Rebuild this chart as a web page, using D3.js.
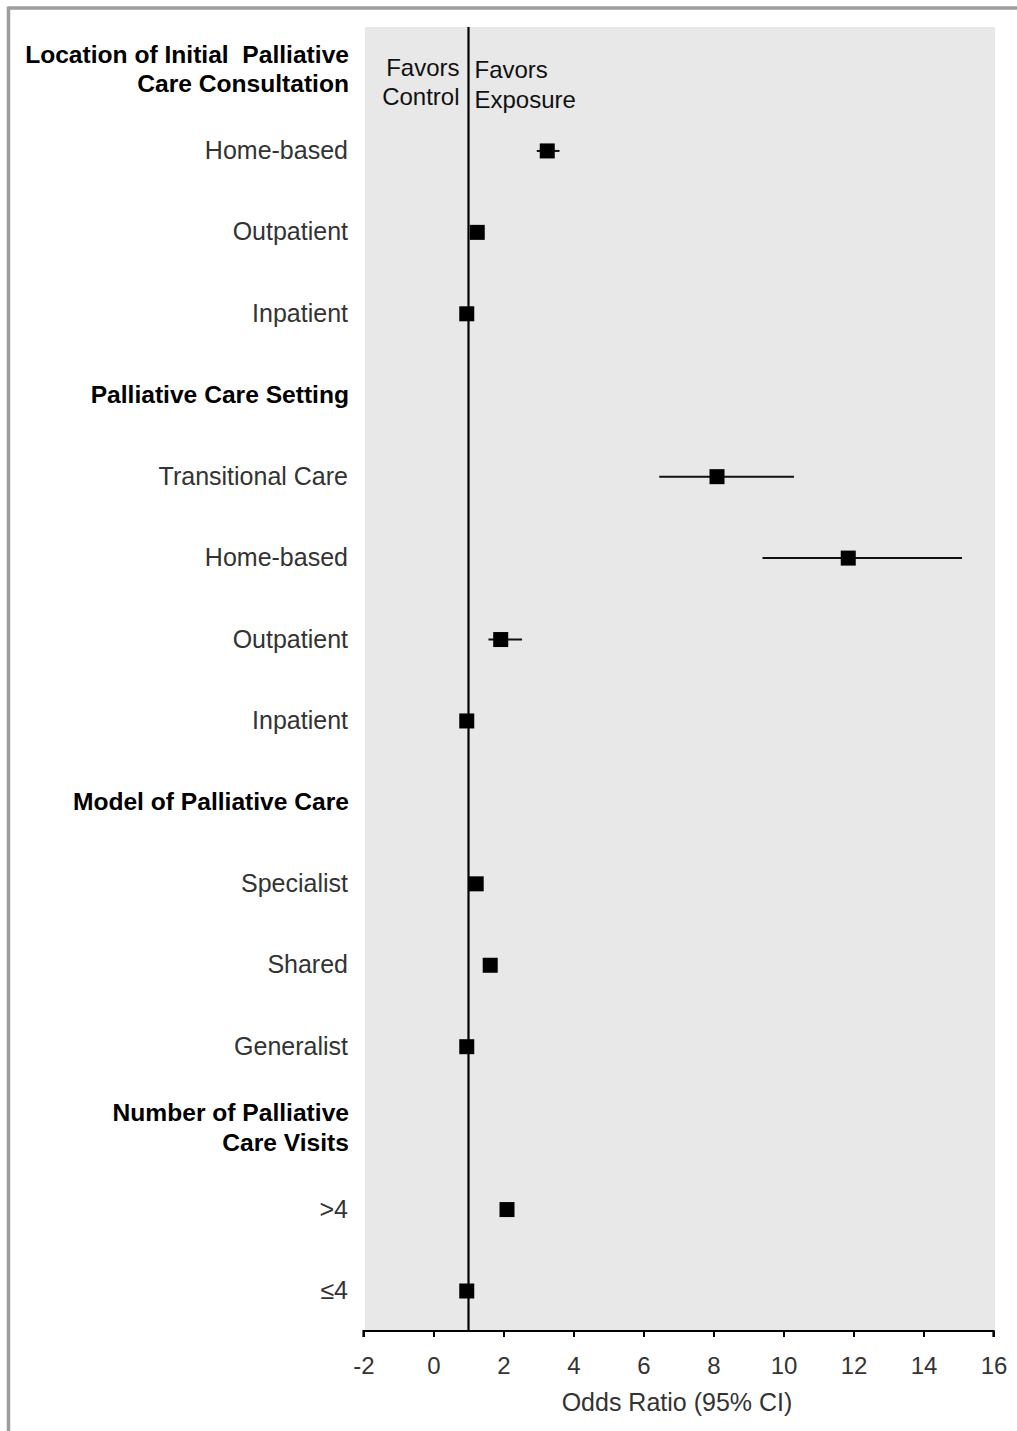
<!DOCTYPE html>
<html>
<head>
<meta charset="utf-8">
<script src="https://cdn.jsdelivr.net/npm/d3@7"></script>
<style>
  html, body { margin: 0; padding: 0; background: #fff; }
  svg { display: block; font-family: "Liberation Sans", Arial, Helvetica, sans-serif; }
</style>
</head>
<body>
<svg id="chart" width="1017" height="1431"></svg>
<script>
// Row labels, top to bottom (section headers carry a line break)
const rowLabels = [
  "Location of Initial  Palliative\nCare Consultation",
  "Home-based", "Outpatient", "Inpatient",
  "Palliative Care Setting",
  "Transitional Care", "Home-based", "Outpatient", "Inpatient",
  "Model of Palliative Care",
  "Specialist", "Shared", "Generalist",
  "Number of Palliative\nCare Visits",
  ">4", "≤4"
];
const isHeader = [true, false, false, false, true, false, false, false, false,
                  true, false, false, false, true, false, false];

// Odds ratios with 95% confidence limits (null = header row / no interval)
const oddsRatio = [null, 3.25, 1.25, 0.95, null, 8.1, 11.85, 1.92, 0.95, null, 1.22, 1.62, 0.95, null, 2.1, 0.95];
const ciLower   = [null, 2.95, 1.2, null, null, 6.45, 9.4, 1.57, null, null, 1.18, 1.58, null, null, 2.05, null];
const ciUpper   = [null, 3.6, 1.32, null, null, 10.3, 15.1, 2.53, null, null, 1.27, 1.68, null, null, 2.15, null];

const xTicks = [-2, 0, 2, 4, 6, 8, 10, 12, 14, 16];
const nullValue = 1;

const svg = d3.select("#chart");

// Outer frame (top and left rules)
svg.append("line").attr("x1", 8.5).attr("x2", 1017).attr("y1", 8).attr("y2", 8)
  .attr("stroke", "#9e9e9e").attr("stroke-width", 3.5);
svg.append("line").attr("x1", 8.5).attr("x2", 8.5).attr("y1", 6.5).attr("y2", 1431)
  .attr("stroke", "#9e9e9e").attr("stroke-width", 3.5);

const x = d3.scaleLinear().domain([-2, 16]).range([363.5, 993.5]);
const y = d3.scaleLinear().domain([0, rowLabels.length - 1]).range([69.5, 1291]);

const panelTop = 27, panelBottom = 1331;

// Plot panel
svg.append("rect")
  .attr("x", 365).attr("y", panelTop)
  .attr("width", 995 - 365).attr("height", panelBottom - panelTop)
  .attr("fill", "#e8e8e8");

// No-effect reference line
svg.append("line")
  .attr("x1", x(nullValue)).attr("x2", x(nullValue))
  .attr("y1", panelTop).attr("y2", panelBottom)
  .attr("stroke", "#000").attr("stroke-width", 2.2);

// Direction captions
const capL = svg.append("text").attr("text-anchor", "end").attr("font-size", 24).attr("fill", "#111");
capL.append("tspan").attr("x", x(nullValue) - 9).attr("y", 76).text("Favors");
capL.append("tspan").attr("x", x(nullValue) - 9).attr("y", 105).text("Control");
const capR = svg.append("text").attr("text-anchor", "start").attr("font-size", 24).attr("fill", "#111");
capR.append("tspan").attr("x", x(nullValue) + 6).attr("y", 78).text("Favors");
capR.append("tspan").attr("x", x(nullValue) + 6).attr("y", 108).text("Exposure");

// X axis
const axis = svg.append("g")
  .attr("transform", `translate(0,${panelBottom})`)
  .call(d3.axisBottom(x).tickValues(xTicks).tickSize(6).tickPadding(20).tickFormat(d => String(d)));
axis.select(".domain").attr("stroke", "#000").attr("stroke-width", 2.2)
  .attr("d", `M${x(-2)},6V0H${x(16)}V6`);
axis.selectAll(".tick line").attr("stroke", "#000").attr("stroke-width", 2);
axis.selectAll(".tick text")
  .attr("font-size", 24).attr("fill", "#333")
  .attr("font-family", "'Liberation Sans', Arial, sans-serif");

svg.append("text")
  .attr("x", 677).attr("y", 1411)
  .attr("text-anchor", "middle").attr("font-size", 25).attr("fill", "#333")
  .text("Odds Ratio (95% CI)");

// Row labels
rowLabels.forEach((lab, i) => {
  const lines = lab.split("\n");
  const t = svg.append("text")
    .attr("text-anchor", "end")
    .attr("font-size", isHeader[i] ? 24.6 : 25)
    .attr("font-weight", isHeader[i] ? "bold" : "normal")
    .attr("fill", isHeader[i] ? "#000" : "#333")
    .style("white-space", "pre");
  const lh = 29.5;
  lines.forEach((ln, k) => {
    t.append("tspan")
      .attr("x", isHeader[i] ? 349 : 348)
      .attr("y", y(i) + (k - (lines.length - 1) / 2) * lh + 8)
      .text(ln);
  });
});

// Confidence intervals and point estimates
const est = rowLabels.map((_, i) => ({ i, or: oddsRatio[i], lo: ciLower[i], hi: ciUpper[i] }))
  .filter(d => d.or !== null);

svg.append("g").selectAll("line")
  .data(est.filter(d => d.lo !== null))
  .join("line")
  .attr("x1", d => x(d.lo)).attr("x2", d => x(d.hi))
  .attr("y1", d => y(d.i)).attr("y2", d => y(d.i))
  .attr("stroke", "#111").attr("stroke-width", 2);

const sq = 15;
svg.append("g").selectAll("rect")
  .data(est)
  .join("rect")
  .attr("x", d => x(d.or) - sq / 2)
  .attr("y", d => y(d.i) - sq / 2)
  .attr("width", sq).attr("height", sq)
  .attr("fill", "#000");
</script>
</body>
</html>
